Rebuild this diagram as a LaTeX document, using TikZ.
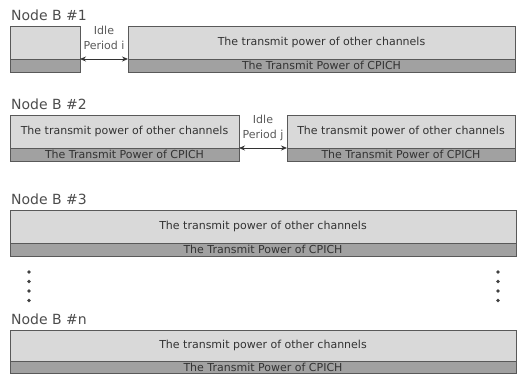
\documentclass[tikz,border=0pt]{standalone}
\usepackage{fontspec}
\setmainfont{DejaVu Sans}
\usetikzlibrary{arrows.meta}

\begin{document}
\begin{tikzpicture}[x=1pt,y=-1pt,
  other/.style={draw=black!65,fill=black!15,inner sep=0pt,outer sep=0pt,anchor=north west,minimum height=33pt,text=black!80,font=\fontsize{11}{13}\selectfont},
  cpich/.style={draw=black!65,fill=black!37,inner sep=0pt,outer sep=0pt,anchor=north west,minimum height=13.5pt,text=black!80,font=\fontsize{11}{13}\selectfont},
  bname/.style={anchor=west,inner sep=0pt,text=black!70,font=\fontsize{14}{16}\selectfont},
  idle/.style={align=center,inner sep=0pt,text=black!65,font=\fontsize{11}{15}\selectfont},
  dot/.style={circle,fill=black!75,inner sep=0pt,minimum size=3.6pt},
  gap/.style={{Stealth[length=6pt,width=5pt]}-{Stealth[length=6pt,width=5pt]},line width=0.8pt,black!80}]
  \useasboundingbox (0,0) rectangle (518,373);
  \clip (0,0) rectangle (518,373);

  % Node B #1
  \node[bname] (l1) at (11,15) {Node B \#1};
  \node[other,minimum width=70pt] (o1a) at (10,26) {};
  \node[cpich,minimum width=70pt] (c1a) at (o1a.south west) {};
  \node[other,minimum width=387pt] (o1b) at (128,26) {The transmit power of other channels};
  \node[cpich,minimum width=387pt] (c1b) at (o1b.south west) {The Transmit Power of CPICH};
  \node[idle] (i1) at (104,38) {Idle\\Period i};

  % Node B #2
  \node[bname] (l2) at (11,104) {Node B \#2};
  \node[other,minimum width=229pt] (o2a) at (10,115) {The transmit power of other channels};
  \node[cpich,minimum width=229pt] (c2a) at (o2a.south west) {The Transmit Power of CPICH};
  \node[other,minimum width=228pt] (o2b) at (287,115) {The transmit power of other channels};
  \node[cpich,minimum width=228pt] (c2b) at (o2b.south west) {The Transmit Power of CPICH};
  \node[idle] (i2) at (263,128) {Idle\\Period j};

  % Node B #3
  \node[bname] (l3) at (11,199) {Node B \#3};
  \node[other,minimum width=506pt] (o3) at (10,210) {The transmit power of other channels};
  \node[cpich,minimum width=506pt] (c3) at (o3.south west) {The Transmit Power of CPICH};

  % dots
  \node[dot] (d1) at (29,272) {};
  \node[dot] (d2) at (29,281.5) {};
  \node[dot] (d3) at (29,291) {};
  \node[dot] (d4) at (29,300.5) {};
  \node[dot] (d5) at (498,272) {};
  \node[dot] (d6) at (498,281.5) {};
  \node[dot] (d7) at (498,291) {};
  \node[dot] (d8) at (498,300.5) {};

  % Node B #n
  \node[bname] (ln) at (11,319) {Node B \#n};
  \node[other,minimum width=506pt,minimum height=31pt] (on) at (10,330) {The transmit power of other channels};
  \node[cpich,minimum width=506pt,minimum height=12.5pt] (cn) at (on.south west) {The Transmit Power of CPICH};

  \path
  (c1a.north east) edge[gap] (c1b.north west)
  (c2a.north east) edge[gap] (c2b.north west);
\end{tikzpicture}
\end{document}
